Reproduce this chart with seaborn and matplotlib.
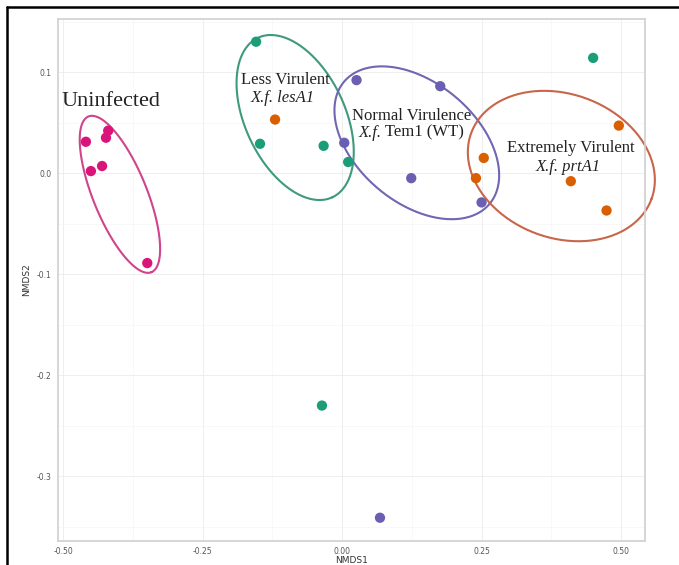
import numpy as np
import pandas as pd
import matplotlib
matplotlib.use("Agg")
import matplotlib.pyplot as plt
from matplotlib.lines import Line2D
import seaborn as sns

# ---------------------------------------------------------------------------
# Data (NMDS scores)
# ---------------------------------------------------------------------------
groups = ["Uninfected", "lesA1", "Tem1", "prtA1"]

uninf_x = [-0.459, -0.450, -0.430, -0.423, -0.419, -0.349]
uninf_y = [0.031, 0.002, 0.007, 0.035, 0.042, -0.089]

lesa1_x = [-0.154, -0.147, -0.033, 0.011, 0.450, -0.036]
lesa1_y = [0.130, 0.029, 0.027, 0.011, 0.114, -0.230]

tem1_x = [0.026, 0.176, 0.004, 0.124, 0.250, 0.068]
tem1_y = [0.092, 0.086, 0.030, -0.005, -0.029, -0.341]

prta1_x = [-0.120, 0.254, 0.240, 0.410, 0.496, 0.474]
prta1_y = [0.053, 0.015, -0.005, -0.008, 0.047, -0.037]

x_ticks = [-0.50, -0.25, 0.00, 0.25, 0.50]
y_ticks = [-0.3, -0.2, -0.1, 0.0, 0.1]

df = pd.DataFrame({
    "NMDS1": uninf_x + lesa1_x + tem1_x + prta1_x,
    "NMDS2": uninf_y + lesa1_y + tem1_y + prta1_y,
    "Group": ["Uninfected"] * 6 + ["lesA1"] * 6 + ["Tem1"] * 6 + ["prtA1"] * 6,
})

palette = {"Uninfected": "#D9157A", "lesA1": "#1B9E77",
           "Tem1": "#6A5FB0", "prtA1": "#D95F02"}

# ---------------------------------------------------------------------------
# Style
# ---------------------------------------------------------------------------
sns.set_style("white")
plt.rcParams["font.family"] = ["DejaVu Sans"]

fig = plt.figure(figsize=(6.79, 5.65), dpi=100)
ax = fig.add_axes([0.0854, 0.0425, 0.8646, 0.9239])

ax.set_xlim(-0.509, 0.543)
ax.set_ylim(-0.364, 0.1525)

# ggplot-like light grid
ax.set_xticks(x_ticks)
ax.set_yticks(y_ticks)
ax.set_xticks([-0.375, -0.125, 0.125, 0.375], minor=True)
ax.set_yticks([-0.35, -0.25, -0.15, -0.05, 0.05, 0.15], minor=True)
ax.grid(True, which="major", color="#ebebeb", lw=0.6)
ax.grid(True, which="minor", color="#f4f4f4", lw=0.4)
ax.set_axisbelow(True)
for s in ax.spines.values():
    s.set_color("#d0d0d0")
    s.set_linewidth(1.2)

ax.tick_params(axis="both", which="major", length=2.5, width=0.8,
               color="#9a9a9a", labelsize=5.5, labelcolor="#555555", pad=2)
ax.tick_params(axis="both", which="minor", length=0)
ax.set_xticklabels(["-0.50", "-0.25", "0.00", "0.25", "0.50"])
ax.set_yticklabels(["-0.3", "-0.2", "-0.1", "0.0", "0.1"])

# ---------------------------------------------------------------------------
# Ellipses (drawn in pixel space around a data centre)
# ---------------------------------------------------------------------------
def draw_ellipse(cx, cy, a, b, ang, color):
    t = np.linspace(0, 2 * np.pi, 300)
    u, v = a * np.cos(t), b * np.sin(t)
    r = np.deg2rad(ang)
    px = u * np.cos(r) - v * np.sin(r)
    py = u * np.sin(r) + v * np.cos(r)
    c = ax.transData.transform((cx, cy))
    pts = ax.transData.inverted().transform(np.column_stack([c[0] + px, c[1] + py]))
    ax.plot(pts[:, 0], pts[:, 1], color=color, lw=1.5, zorder=2, clip_on=False)

draw_ellipse(-0.398, -0.021, 84, 27, -68, "#D0448C")
draw_ellipse(-0.084, 0.055, 88, 50, -65, "#3E9A7C")
draw_ellipse(0.134, 0.030, 95, 60, -40, "#7066B2")
draw_ellipse(0.393, 0.007, 96, 72, -20, "#C8654A")

# ---------------------------------------------------------------------------
# Points
# ---------------------------------------------------------------------------
sns.scatterplot(data=df, x="NMDS1", y="NMDS2", hue="Group", palette=palette,
                s=55, edgecolor="none", legend=False, ax=ax, zorder=3)

ax.set_xlabel("NMDS1", fontsize=6.5, color="#333333", labelpad=0)
ax.set_ylabel("NMDS2", fontsize=6.5, color="#333333", labelpad=4)

# ---------------------------------------------------------------------------
# Annotations
# ---------------------------------------------------------------------------
serif = "Liberation Serif"
txt = dict(family=serif, color="#222222", va="center", zorder=4)
ax.text(-0.502, 0.071, "Uninfected", fontsize=16, ha="left", **txt)
ax.text(-0.102, 0.092, "Less Virulent", fontsize=12, ha="center", **txt)
ax.text(-0.106, 0.074, "X.f. lesA1", fontsize=12, style="italic", ha="center", **txt)
ax.text(0.125, 0.057, "Normal Virulence", fontsize=12, ha="center", **txt)
ax.text(0.070, 0.040, "X.f.", fontsize=12, style="italic", ha="right", **txt)
ax.text(0.070, 0.040, " Tem1 (WT)", fontsize=12, ha="left", **txt)
ax.text(0.410, 0.025, "Extremely Virulent", fontsize=12, ha="center", **txt)
ax.text(0.405, 0.006, "X.f. prtA1", fontsize=12, style="italic", ha="center", **txt)

# screenshot frame (top and left black border)
fig.add_artist(Line2D([7 / 679, 1.0], [1 - 7 / 565, 1 - 7 / 565],
                      color="black", lw=1.8, transform=fig.transFigure))
fig.add_artist(Line2D([7 / 679, 7 / 679], [0.0, 1 - 7 / 565],
                      color="black", lw=1.8, transform=fig.transFigure))

fig.savefig("out.png", dpi=100)
